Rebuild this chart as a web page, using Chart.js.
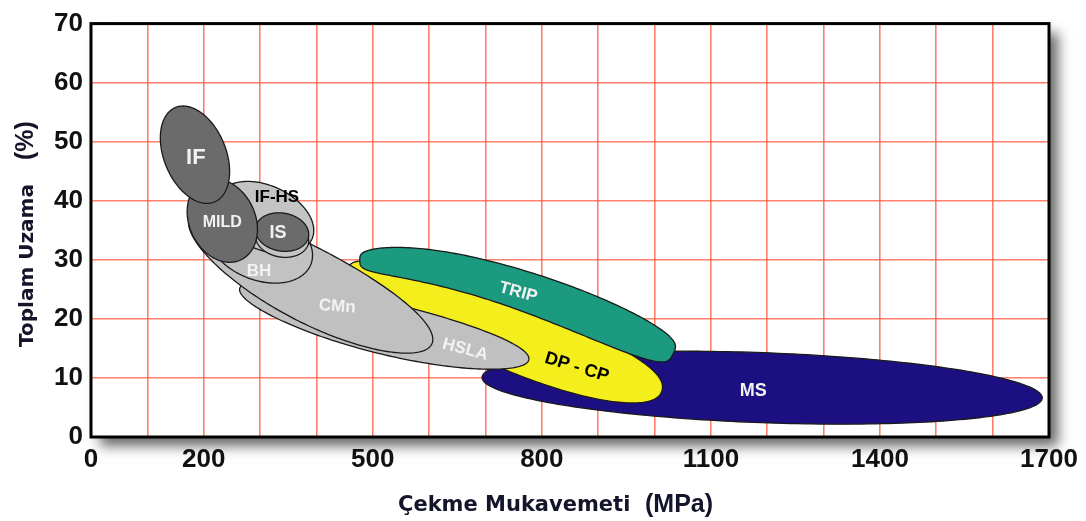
<!DOCTYPE html>
<html>
<head>
<meta charset="utf-8">
<title>Çekme Mukavemeti - Toplam Uzama</title>
<script src="https://cdn.jsdelivr.net/npm/chart.js@4.4.1/dist/chart.umd.min.js"></script>
<style>
  html, body { margin: 0; padding: 0; background: #fff; }
</style>
</head>
<body>
<canvas id="grafica" width="1086" height="521"></canvas>
<script>
// Çelik sınıfları (çizim sırası: alttan üste)
const siniflar = ["MS", "DP - CP", "TRIP", "HSLA", "CMn", "BH", "IF-HS", "IS", "MILD", "IF"];

// Her bölgenin iki ucu (düşük mukavemet ucu -> yüksek mukavemet ucu)
const baslangicMukavemet = [694, 458, 477, 264, 176, 209, 225, 292, 200, 150];            // MPa
const baslangicUzama     = [10.1, 28.9, 29.9, 25.2, 37.3, 36.2, 40.8, 35.5, 43.3, 55.8];  // %
const bitisMukavemet     = [1688, 1013, 1033, 777, 605, 390, 392, 386, 266, 219];         // MPa
const bitisUzama         = [6.6, 7.8, 14.1, 13.1, 15.8, 29.2, 33.5, 33.9, 30.0, 39.8];    // %

// Etiketlerin konduğu nokta (MPa, %)
const etiketMukavemet = [1175, 862, 758, 664, 437, 298, 330, 332, 233, 186];
const etiketUzama     = [7.8, 11.8, 24.5, 14.8, 22.1, 28.1, 40.6, 34.6, 36.3, 47.3];

// Eksen etiketleri
const xEtiketleri = [0, 200, 500, 800, 1100, 1400, 1700];
const yEtiketleri = [0, 10, 20, 30, 40, 50, 60, 70];

// Görünüm
const dolgu     = ["#1c0f82", "#f3ee1c", "#1b9a80", "#c0c0c0", "#c0c0c0", "#c2c2c2", "#c4c4c4", "#6b6b6b", "#6b6b6b", "#6b6b6b"];
const yaziRengi = ["#f2f2f2", "#000000", "#f2f2f2", "#f2f2f2", "#f2f2f2", "#f2f2f2", "#000000", "#f2f2f2", "#f2f2f2", "#f2f2f2"];
const yaziBoyu  = [18, 18, 17, 17, 17, 17, 17, 18, 16, 22];
const yaziAcisi = [0, 17, 15, 15, 4, 0, 0, 0, 0, 0];
// b: yarı kalınlık (px), bukum: kemer (px), yer: kemerin yeri, p: uç yuvarlaklığı, k: kalınlaşma, derinlik: alt kenar (px)
const sekil = [
  { b: 35, bukum: 0, yer: 0.5, p: 2, k: 0 },
  { b: 32, bukum: -6, yer: 0.5, p: 2.2, k: 0.15 },
  { b: 19, bukum: 18, yer: 0.35, p: 3.6, k: 0.22 },
  { b: 26, bukum: -4, yer: 0.5, p: 2, k: 0 },
  { b: 37, bukum: -5, yer: 0.5, p: 2, k: 0 },
  { b: 36, bukum: 0, yer: 0.5, p: 2, k: 0 },
  { b: 32, bukum: 0, yer: 0.5, p: 2, k: 0 },
  { b: 19, bukum: 0, yer: 0.5, p: 2, k: 0, derinlik: 6 },
  { b: 33, bukum: 0, yer: 0.5, p: 2, k: 0 },
  { b: 31, bukum: 0, yer: 0.5, p: 2, k: 0 }
];

const YAZI = '"Liberation Sans", Arial, sans-serif';
const izgara = "rgba(255, 85, 60, 0.75)";

// Bir bölgenin dış çizgisi: iki uç arasında hafif kavisli, uçları yuvarlak bir şekil
function yol(ctx, p1, p2, s) {
  const dx = p2.x - p1.x, dy = p2.y - p1.y;
  const L = Math.hypot(dx, dy);
  const nx = dy / L, ny = -dx / L;
  const kx = p1.x + dx * s.yer + nx * 2 * s.bukum;
  const ky = p1.y + dy * s.yer + ny * 2 * s.bukum;
  const N = 120, ust = [], alt = [];
  for (let j = 0; j <= N; j++) {
    const t = (1 - Math.cos(Math.PI * j / N)) / 2;
    const sv = 2 * t - 1;
    const h = s.b * Math.pow(Math.max(0, 1 - Math.pow(Math.abs(sv), s.p)), 1 / s.p) * (1 + s.k * sv);
    const a = (1 - t) * (1 - t), m = 2 * t * (1 - t), c = t * t;
    const px = a * p1.x + m * kx + c * p2.x;
    const py = a * p1.y + m * ky + c * p2.y;
    let tx = 2 * (1 - t) * (kx - p1.x) + 2 * t * (p2.x - kx);
    let ty = 2 * (1 - t) * (ky - p1.y) + 2 * t * (p2.y - ky);
    const tl = Math.hypot(tx, ty);
    tx /= tl; ty /= tl;
    ust.push([px + ty * h, py - tx * h]);
    alt.push([px - ty * h, py + tx * h]);
  }
  ctx.beginPath();
  ust.forEach(([X, Y], j) => (j ? ctx.lineTo(X, Y) : ctx.moveTo(X, Y)));
  for (let j = alt.length - 1; j >= 0; j--) ctx.lineTo(alt[j][0], alt[j][1]);
  ctx.closePath();
}

const bolgeler = {
  id: "bolgeler",
  beforeDatasetsDraw(chart) {
    const { ctx, chartArea: ca, scales: { x, y } } = chart;
    ctx.save();
    ctx.beginPath();
    ctx.rect(ca.left, ca.top, ca.right - ca.left, ca.bottom - ca.top);
    ctx.clip();
    ctx.lineWidth = 1.3;
    ctx.strokeStyle = "#1a1a1a";
    ctx.lineJoin = "round";

    siniflar.forEach((ad, i) => {
      const p1 = { x: x.getPixelForValue(baslangicMukavemet[i]), y: y.getPixelForValue(baslangicUzama[i]) };
      const p2 = { x: x.getPixelForValue(bitisMukavemet[i]), y: y.getPixelForValue(bitisUzama[i]) };
      const s = sekil[i];
      if (s.derinlik) {
        yol(ctx, { x: p1.x, y: p1.y + s.derinlik }, { x: p2.x, y: p2.y + s.derinlik }, s);
        ctx.fillStyle = "#c4c4c4";
        ctx.fill();
        ctx.stroke();
      }
      yol(ctx, p1, p2, s);
      ctx.fillStyle = dolgu[i];
      ctx.fill();
      ctx.stroke();
    });

    siniflar.forEach((ad, i) => {
      ctx.save();
      ctx.translate(x.getPixelForValue(etiketMukavemet[i]), y.getPixelForValue(etiketUzama[i]));
      ctx.rotate(yaziAcisi[i] * Math.PI / 180);
      ctx.font = `bold ${yaziBoyu[i]}px ${YAZI}`;
      ctx.fillStyle = yaziRengi[i];
      ctx.textAlign = "center";
      ctx.textBaseline = "middle";
      ctx.fillText(ad, 0, 0);
      ctx.restore();
    });
    ctx.restore();
  }
};

const cerceve = {
  id: "cerceve",
  beforeDraw(chart) {
    const { ctx, chartArea: ca } = chart;
    ctx.save();
    ctx.fillStyle = "#fff";
    ctx.fillRect(0, 0, chart.width, chart.height);
    ctx.shadowColor = "rgba(0,0,0,0.6)";
    ctx.shadowBlur = 12;
    ctx.shadowOffsetX = 9;
    ctx.shadowOffsetY = 9;
    ctx.fillRect(ca.left, ca.top, ca.right - ca.left, ca.bottom - ca.top);
    ctx.restore();
  },
  afterDraw(chart) {
    const { ctx, chartArea: ca } = chart;
    ctx.save();
    ctx.lineWidth = 3;
    ctx.strokeStyle = "#000";
    ctx.strokeRect(ca.left, ca.top, ca.right - ca.left, ca.bottom - ca.top);

    // Eksen başlıkları
    ctx.fillStyle = "#14142a";
    ctx.textBaseline = "alphabetic";
    ctx.textAlign = "left";
    ctx.font = 'bold 21px "DejaVu Sans", Verdana, sans-serif';
    ctx.fillText("Çekme Mukavemeti", 398, 511);
    ctx.font = `bold 25px ${YAZI}`;
    ctx.fillText("(MPa)", 645, 512);

    ctx.translate(33, 347);
    ctx.rotate(-Math.PI / 2);
    ctx.font = 'bold 20px "DejaVu Sans", Verdana, sans-serif';
    ctx.fillText("Toplam Uzama", 0, 0);
    const w = ctx.measureText("Toplam Uzama").width;
    ctx.font = `bold 25px ${YAZI}`;
    ctx.fillText("(%)", w + 24, 0);
    ctx.restore();
  }
};

new Chart(document.getElementById("grafica"), {
  type: "scatter",
  data: {
    datasets: siniflar.map((ad, i) => ({
      label: ad,
      data: [
        { x: baslangicMukavemet[i], y: baslangicUzama[i] },
        { x: bitisMukavemet[i], y: bitisUzama[i] }
      ],
      pointRadius: 0,
      showLine: false
    }))
  },
  options: {
    responsive: false,
    animation: false,
    layout: { padding: { top: 15, right: 37, left: 0, bottom: 0 } },
    plugins: { legend: { display: false }, tooltip: { enabled: false } },
    scales: {
      x: {
        type: "linear",
        min: 0,
        max: 1700,
        afterFit: s => { s.height = 84; },
        ticks: {
          stepSize: 100,
          autoSkip: false,
          maxRotation: 0,
          padding: 7,
          color: "#111",
          font: { family: YAZI, size: 26, weight: "bold" },
          callback: v => (xEtiketleri.includes(v) ? String(v) : "")
        },
        grid: { color: izgara, lineWidth: 1.6, drawTicks: false },
        border: { display: false }
      },
      y: {
        min: 0,
        max: 70,
        afterFit: s => { s.width = 91; },
        afterBuildTicks: s => { s.ticks = yEtiketleri.map(v => ({ value: v })); },
        ticks: {
          padding: 8,
          color: "#111",
          font: { family: YAZI, size: 26, weight: "bold" }
        },
        grid: { color: izgara, lineWidth: 1.6, drawTicks: false },
        border: { display: false }
      }
    }
  },
  plugins: [cerceve, bolgeler]
});
</script>
</body>
</html>
